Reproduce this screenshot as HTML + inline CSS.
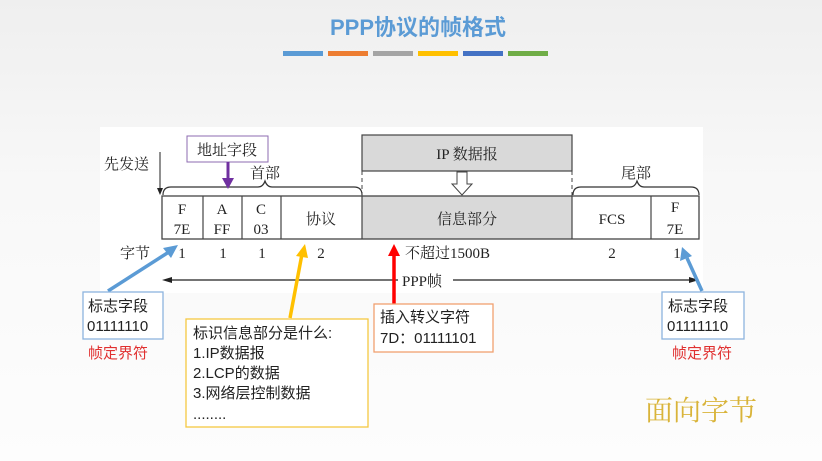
<!DOCTYPE html>
<html><head><meta charset="utf-8"><style>
html,body{margin:0;padding:0;width:822px;height:461px;overflow:hidden;background:#f5f5f5}
svg{display:block}
</style></head><body>
<svg width="822" height="461" xmlns="http://www.w3.org/2000/svg" font-family="Liberation Serif, Noto Serif CJK SC, serif">
<defs>
<linearGradient id="bg" x1="0" y1="0" x2="0" y2="1"><stop offset="0" stop-color="#efefef"/><stop offset="0.4" stop-color="#f8f8f8"/><stop offset="1" stop-color="#fdfdfd"/></linearGradient>
</defs>
<rect width="822" height="461" fill="url(#bg)"/>
<text x="418" y="35" text-anchor="middle" font-family="Liberation Sans, Noto Sans CJK SC, sans-serif" font-weight="bold" font-size="22" fill="#5b9bd5">PPP协议的帧格式</text>
<rect x="283" y="51" width="40" height="5" fill="#5b9bd5"/>
<rect x="328" y="51" width="40" height="5" fill="#ed7d31"/>
<rect x="373" y="51" width="40" height="5" fill="#a5a5a5"/>
<rect x="418" y="51" width="40" height="5" fill="#ffc000"/>
<rect x="463" y="51" width="40" height="5" fill="#4472c4"/>
<rect x="508" y="51" width="40" height="5" fill="#70ad47"/>

<rect x="100" y="127" width="603" height="166" fill="#fff"/>
<rect x="362" y="135" width="210" height="36" fill="#d9d9d9" stroke="#444" stroke-width="1.2"/>
<text x="467" y="159" text-anchor="middle" font-size="15" fill="#222">IP 数据报</text>
<line x1="362" y1="171" x2="362" y2="196" stroke="#444" stroke-dasharray="4,3"/>
<line x1="572" y1="171" x2="572" y2="196" stroke="#444" stroke-dasharray="4,3"/>
<polygon points="457,172 467,172 467,184 472,184 462,195 452,184 457,184" fill="#fff" stroke="#444"/>
<rect x="362" y="196" width="210" height="43" fill="#d9d9d9"/>
<rect x="162" y="196" width="537" height="43" fill="none" stroke="#444" stroke-width="1.3"/>
<g stroke="#444" stroke-width="1.2">
<line x1="203" y1="196" x2="203" y2="239"/><line x1="242" y1="196" x2="242" y2="239"/><line x1="281" y1="196" x2="281" y2="239"/><line x1="362" y1="196" x2="362" y2="239"/><line x1="572" y1="196" x2="572" y2="239"/><line x1="651" y1="196" x2="651" y2="239"/>
</g>
<g font-size="15" fill="#222" text-anchor="middle">
<text x="182" y="214">F</text><text x="182" y="234">7E</text>
<text x="222" y="214">A</text><text x="222" y="234">FF</text>
<text x="261" y="214">C</text><text x="261" y="234">03</text>
<text x="321" y="224">协议</text>
<text x="467" y="224">信息部分</text>
<text x="612" y="224">FCS</text>
<text x="675" y="212">F</text><text x="675" y="234">7E</text>
<text x="265" y="178">首部</text>
<text x="636" y="178">尾部</text>
<text x="135" y="258">字节</text>
<text x="182" y="258">1</text><text x="223" y="258">1</text><text x="262" y="258">1</text><text x="321" y="258">2</text>
<text x="612" y="258">2</text><text x="677" y="258">1</text>
</g>
<text x="405" y="258" font-size="15" fill="#222">不超过1500B</text>
<text x="104" y="169" font-size="15" fill="#222">先发送</text>
<line x1="160" y1="152" x2="160" y2="190" stroke="#222"/>
<polygon points="157,188 163,188 160,195" fill="#222"/>
<path d="M163,195 Q163,187 171,187 L258,187 Q263,187 265,181 Q267,187 272,187 L354,187 Q362,187 362,195" fill="none" stroke="#333" stroke-width="1.2"/>
<path d="M573,195 Q573,187 581,187 L630,187 Q635,187 637,181 Q639,187 644,187 L691,187 Q699,187 699,195" fill="none" stroke="#333" stroke-width="1.2"/>
<rect x="187" y="136" width="81" height="26" fill="#fff" stroke="#8e6bb0"/>
<text x="227" y="155" text-anchor="middle" font-size="15" fill="#222">地址字段</text>
<line x1="228" y1="162" x2="228" y2="180" stroke="#7030a0" stroke-width="3"/>
<polygon points="222,178 234,178 228,189" fill="#7030a0"/>
<line x1="166" y1="280" x2="695" y2="280" stroke="#222" stroke-width="1.3"/>
<polygon points="162,280 172,277 172,283" fill="#222"/>
<polygon points="699,280 689,277 689,283" fill="#222"/>
<rect x="398" y="270" width="55" height="20" fill="#fff"/>
<text x="402" y="286" font-size="15" fill="#222">PPP帧</text>
<line x1="108" y1="291" x2="172" y2="250" stroke="#5b9bd5" stroke-width="3.5"/>
<polygon points="178,245 163,248 171,258" fill="#5b9bd5"/>
<line x1="702" y1="291" x2="687" y2="258" stroke="#5b9bd5" stroke-width="3.5"/>
<polygon points="682,247 680,261 692,256" fill="#5b9bd5"/>
<line x1="290" y1="318" x2="302" y2="254" stroke="#ffc000" stroke-width="3.5"/>
<polygon points="305,244 296,256 308,258" fill="#ffc000"/>
<line x1="394" y1="305" x2="394" y2="254" stroke="#ff0000" stroke-width="3.5"/>
<polygon points="394,244 388,256 400,256" fill="#ff0000"/>
<g font-family="Liberation Sans, Noto Sans CJK SC, sans-serif" font-size="15" fill="#222">
<rect x="83" y="292" width="80" height="47" fill="#fff" stroke="#8db4de" stroke-width="1.3"/>
<text x="88" y="311">标志字段</text><text x="87" y="331">01111110</text>
<text x="88" y="358" fill="#e03030">帧定界符</text>
<rect x="662" y="292" width="82" height="47" fill="#fff" stroke="#8db4de" stroke-width="1.3"/>
<text x="668" y="311">标志字段</text><text x="667" y="331">01111110</text>
<text x="672" y="358" fill="#e03030">帧定界符</text>
<rect x="186" y="319" width="182" height="108" fill="#fff" stroke="#f5c842" stroke-width="1.3"/>
<text x="193" y="338">标识信息部分是什么:</text>
<text x="193" y="358">1.IP数据报</text>
<text x="193" y="378">2.LCP的数据</text>
<text x="193" y="398">3.网络层控制数据</text>
<text x="193" y="419">........</text>
<rect x="374" y="304" width="119" height="48" fill="#fff" stroke="#f0a070" stroke-width="1.3"/>
<text x="380" y="322">插入转义字符</text>
<text x="380" y="343">7D：01111101</text>
</g>
<text x="645" y="420" font-size="28" fill="#d9b43a" font-family="Liberation Serif, Noto Serif CJK SC, serif">面向字节</text>
</svg>
</body></html>
